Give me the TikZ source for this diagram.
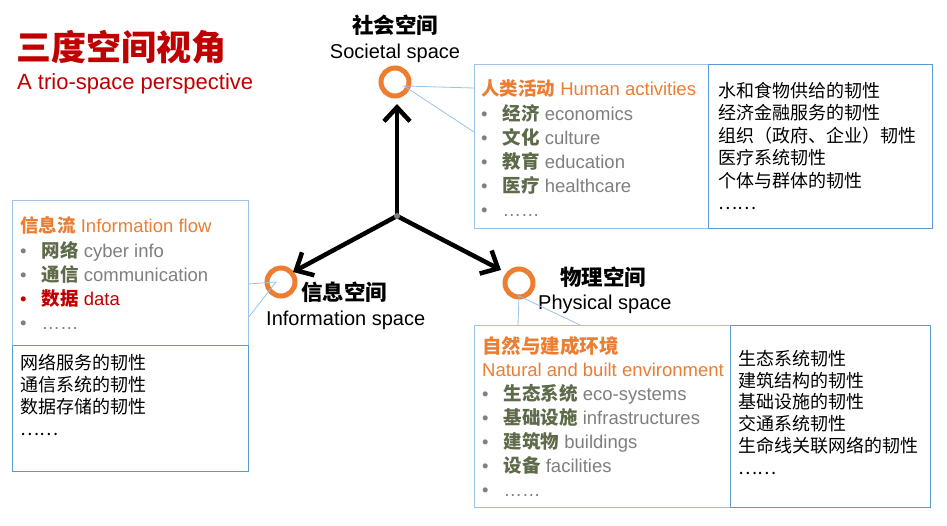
\documentclass[tikz,border=0pt]{standalone}
\usepackage{fontspec}
\setmainfont{Liberation Sans}
\newfontfamily\cjk{Noto Sans CJK SC}
\usetikzlibrary{arrows.meta}
\definecolor{myorange}{HTML}{ED7D31}
\definecolor{myolive}{HTML}{5E6B4A}
\definecolor{mygrey}{HTML}{7F7F7F}
\definecolor{myred}{HTML}{C00000}
\definecolor{lightblue}{HTML}{9DC3E6}
\definecolor{darkblue}{HTML}{5B9BD5}
\begin{document}
\begin{tikzpicture}[x=1pt,y=-1pt,
  txt/.style={anchor=base west,inner sep=0pt,font=\fontsize{18.5}{20}\selectfont},
  ring/.style={circle,draw=myorange,line width=5pt,minimum size=28pt,inner sep=0pt},
  arr/.style={line width=4.5pt,-{Straight Barb[length=14pt,width=26pt,line width=4.5pt]}},
  lbox/.style={draw=lightblue,line width=0.8pt},
  dbox/.style={draw=darkblue,line width=1pt},
  bul/.style={txt,text=mygrey},
  ptr/.style={draw=lightblue,line width=0.8pt}]
\useasboundingbox (0,0) rectangle (947,525);
\fill[white] (0,0) rectangle (947,525);
% title
\node[anchor=base west,inner sep=0pt,text=myred,font=\fontsize{35}{37}\selectfont\bfseries\cjk] (t1) at (16,60) {三度空间视角};
\node[anchor=base west,inner sep=0pt,text=myred,font=\fontsize{22}{24}\selectfont] (t2) at (17,89) {A trio-space perspective};
% center & rings
\coordinate (c) at (397,216);
\node[ring] (rs) at (395,82) {};
\node[ring] (ri) at (281,282) {};
\node[ring] (rp) at (519,283) {};
\draw[arr] (c) -- (397,104);
\draw[arr] (c) -- (293,272);
\draw[arr] (c) -- (501,270);
\fill[mygrey] (c) circle (3pt);
% labels
\node[anchor=base,inner sep=0pt,font=\fontsize{21.5}{23}\selectfont\bfseries\cjk] (ls1) at (395,33) {社会空间};
\node[anchor=base,inner sep=0pt,font=\fontsize{20}{22}\selectfont] (ls2) at (395,58) {Societal space};
\node[anchor=base west,inner sep=0pt,font=\fontsize{21.5}{23}\selectfont\bfseries\cjk] (li1) at (301,300) {信息空间};
\node[anchor=base west,inner sep=0pt,font=\fontsize{20}{22}\selectfont] (li2) at (266,325) {Information space};
\node[anchor=base west,inner sep=0pt,font=\fontsize{21.5}{23}\selectfont\bfseries\cjk] (lp1) at (560,285) {物理空间};
\node[anchor=base west,inner sep=0pt,font=\fontsize{20}{22}\selectfont] (lp2) at (538,309) {Physical space};
% top boxes
\draw[ptr] (474,88) -- (404,86) -- (474,132);
\draw[lbox,fill=white] (474,64) rectangle (708,228);
\draw[dbox] (708,64) rectangle (932,228);
\node[txt,text=myorange] (a0) at (481,95) {{\cjk\bfseries 人类活动} Human activities};
\node[bul] (a1) at (481,120) {•\hspace{15pt}{\cjk\bfseries\color{myolive}经济} economics};
\node[bul] (a2) at (481,144) {•\hspace{15pt}{\cjk\bfseries\color{myolive}文化} culture};
\node[bul] (a3) at (481,168) {•\hspace{15pt}{\cjk\bfseries\color{myolive}教育} education};
\node[bul] (a4) at (481,192) {•\hspace{15pt}{\cjk\bfseries\color{myolive}医疗} healthcare};
\node[bul] (a5) at (481,216) {•\hspace{15pt}……};
\node[txt,align=left,anchor=north west,font=\fontsize{18}{22.5}\selectfont\cjk] (ar) at (718,82) {水和食物供给的韧性\\经济金融服务的韧性\\组织（政府、企业）韧性\\医疗系统韧性\\个体与群体的韧性\\……};
% left boxes
\draw[ptr] (248,284) -- (276,282) -- (248,318);
\draw[lbox,fill=white] (12,200) rectangle (248,345);
\draw[dbox] (12,345) rectangle (248,471);
\node[txt,text=myorange] (b0) at (20,232) {{\cjk\bfseries 信息流} Information flow};
\node[bul] (b1) at (20,257) {•\hspace{15pt}{\cjk\bfseries\color{myolive}网络} cyber info};
\node[bul] (b2) at (20,281) {•\hspace{15pt}{\cjk\bfseries\color{myolive}通信} communication};
\node[txt,text=myred] (b3) at (20,305) {•\hspace{15pt}{\cjk\bfseries 数据} data};
\node[bul] (b4) at (20,329) {•\hspace{15pt}……};
\node[txt,align=left,anchor=north west,font=\fontsize{18}{22}\selectfont\cjk] (br) at (20,354) {网络服务的韧性\\通信系统的韧性\\数据存储的韧性\\……};
% bottom right boxes
\draw[ptr] (518,325) -- (519,296) -- (580,325);
\draw[lbox,fill=white] (474,325) rectangle (730,507);
\draw[dbox] (730,325) rectangle (930,507);
\node[txt,text=myorange,font=\fontsize{19.5}{21}\selectfont\bfseries\cjk] (p0) at (482,353) {自然与建成环境};
\node[txt,text=myorange] (p1) at (482,376) {Natural and built environment};
\node[bul] (p2) at (482,400) {•\hspace{15pt}{\cjk\bfseries\color{myolive}生态系统} eco-systems};
\node[bul] (p3) at (482,424) {•\hspace{15pt}{\cjk\bfseries\color{myolive}基础设施} infrastructures};
\node[bul] (p4) at (482,448) {•\hspace{15pt}{\cjk\bfseries\color{myolive}建筑物} buildings};
\node[bul] (p5) at (482,472) {•\hspace{15pt}{\cjk\bfseries\color{myolive}设备} facilities};
\node[bul] (p6) at (482,496) {•\hspace{15pt}……};
\node[txt,align=left,anchor=north west,font=\fontsize{18}{21.8}\selectfont\cjk] (pr) at (738,350) {生态系统韧性\\建筑结构的韧性\\基础设施的韧性\\交通系统韧性\\生命线关联网络的韧性\\……};
\end{tikzpicture}
\end{document}
